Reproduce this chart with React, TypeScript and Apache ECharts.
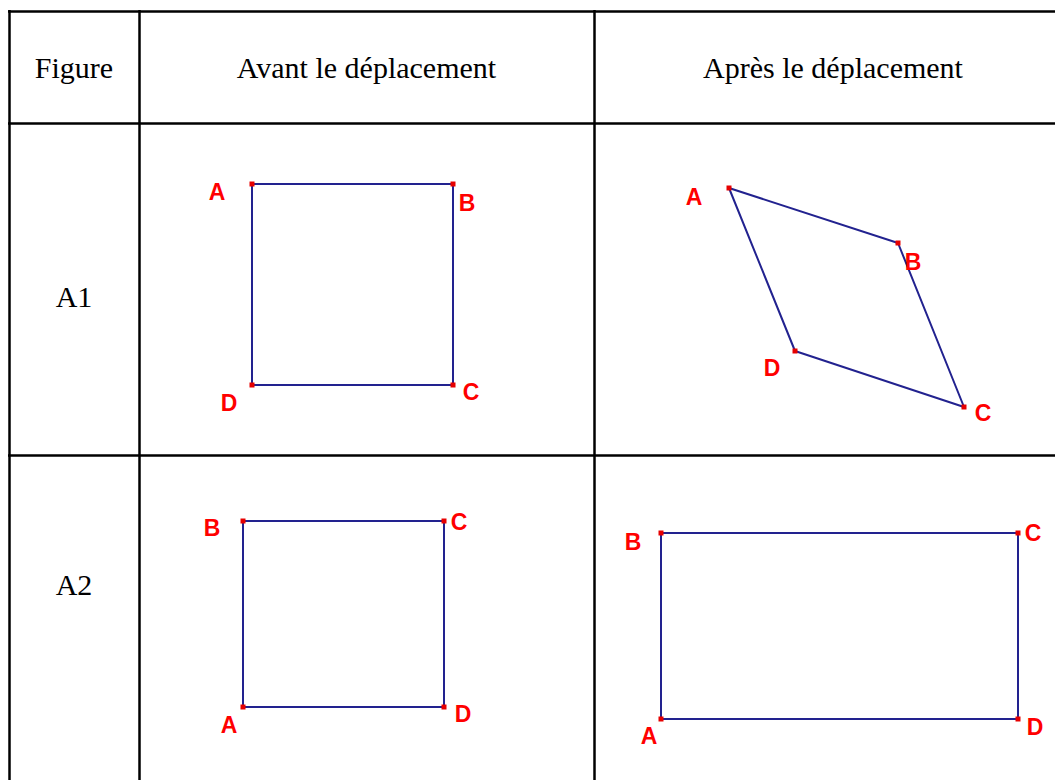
import React, { useEffect, useRef } from "react";
import * as echarts from "echarts";

// Table grid (pixel coordinates of column and row borders)
const tableCols = [9, 139, 594, 1072];
const tableRows = [11, 123, 455, 800];

// Header and row captions
const headerLabels = ["Figure", "Avant le déplacement", "Après le déplacement"];
const rowLabels = ["A1", "A2"];
const rowLabelY = [296, 584];

// Vertex names
const a1Names = ["A", "B", "C", "D"];
const a2Names = ["B", "C", "D", "A"];

// A1 before (square)
const a1BeforeX = [252, 453, 453, 252];
const a1BeforeY = [184, 184, 385, 385];
const a1BeforeLabelX = [217, 467, 471, 229];
const a1BeforeLabelY = [192, 203, 392, 403];

// A1 after (rhombus)
const a1AfterX = [729, 898, 964, 795];
const a1AfterY = [188, 243, 407, 351];
const a1AfterLabelX = [694, 913, 983, 772];
const a1AfterLabelY = [197, 262, 413, 368];

// A2 before (square)
const a2BeforeX = [243, 444, 444, 243];
const a2BeforeY = [521, 521, 707, 707];
const a2BeforeLabelX = [212, 459, 463, 229];
const a2BeforeLabelY = [528, 522, 714, 725];

// A2 after (rectangle)
const a2AfterX = [661, 1018, 1018, 661];
const a2AfterY = [533, 533, 719, 719];
const a2AfterLabelX = [633, 1033, 1035, 649];
const a2AfterLabelY = [542, 533, 727, 736];

const figures = [
  { names: a1Names, x: a1BeforeX, y: a1BeforeY, lx: a1BeforeLabelX, ly: a1BeforeLabelY },
  { names: a1Names, x: a1AfterX, y: a1AfterY, lx: a1AfterLabelX, ly: a1AfterLabelY },
  { names: a2Names, x: a2BeforeX, y: a2BeforeY, lx: a2BeforeLabelX, ly: a2BeforeLabelY },
  { names: a2Names, x: a2AfterX, y: a2AfterY, lx: a2AfterLabelX, ly: a2AfterLabelY },
];

const LINE_COLOR = "#22228f";
const POINT_COLOR = "#e60000";
const LABEL_COLOR = "#ff0000";
const CLEAR = "rgba(0,0,0,0)";

export default function App() {
  const ref = useRef<HTMLDivElement>(null);

  useEffect(() => {
    if (!ref.current) return;
    const chart = echarts.init(ref.current, undefined, { renderer: "svg" });

    const tableSegments: any[] = [];
    tableRows.forEach((y) => {
      tableSegments.push({ coords: [[tableCols[0] - 1, y], [tableCols[tableCols.length - 1], y]] });
    });
    tableCols.forEach((x) => {
      tableSegments.push({ coords: [[x, tableRows[0] - 1], [x, tableRows[tableRows.length - 1]]] });
    });

    const textData: any[] = [];
    headerLabels.forEach((t, i) => {
      textData.push({
        name: t,
        value: [(tableCols[i] + tableCols[i + 1]) / 2, (tableRows[0] + tableRows[1]) / 2],
      });
    });
    rowLabels.forEach((t, i) => {
      textData.push({ name: t, value: [(tableCols[0] + tableCols[1]) / 2, rowLabelY[i]] });
    });

    const series: any[] = [
      {
        type: "lines",
        coordinateSystem: "cartesian2d",
        data: tableSegments,
        lineStyle: { color: "#000", width: 2.5, opacity: 1 },
        silent: true,
        z: 1,
      },
      {
        type: "scatter",
        data: textData,
        symbolSize: 1,
        itemStyle: { color: CLEAR, opacity: 1 },
        label: {
          show: true,
          position: "inside",
          formatter: "{b}",
          color: "#000",
          opacity: 1,
          fontFamily: "'Liberation Serif', 'Times New Roman', serif",
          fontSize: 30,
        },
        z: 5,
      },
    ];

    figures.forEach((f) => {
      const pts = f.x.map((x, i) => [x, f.y[i]]);
      series.push({
        type: "line",
        data: [...pts, pts[0]],
        showSymbol: false,
        lineStyle: { color: LINE_COLOR, width: 2 },
        z: 3,
      });
      series.push({
        type: "scatter",
        data: pts,
        symbol: "rect",
        symbolSize: 5,
        itemStyle: { color: POINT_COLOR, opacity: 1 },
        z: 4,
      });
      series.push({
        type: "scatter",
        data: f.names.map((n, i) => ({ name: n, value: [f.lx[i], f.ly[i]] })),
        symbolSize: 1,
        itemStyle: { color: CLEAR, opacity: 1 },
        label: {
          show: true,
          position: "inside",
          formatter: "{b}",
          color: LABEL_COLOR,
          opacity: 1,
          fontFamily: "'Liberation Sans', Arial, sans-serif",
          fontWeight: "bold",
          fontSize: 23,
        },
        z: 5,
      });
    });

    chart.setOption({
      animation: false,
      backgroundColor: "#ffffff",
      grid: { left: 0, right: 0, top: 0, bottom: 0 },
      xAxis: { type: "value", min: 0, max: 1055, show: false },
      yAxis: { type: "value", min: 0, max: 780, inverse: true, show: false },
      series,
    });

    return () => chart.dispose();
  }, []);

  return (
    <div
      ref={ref}
      style={{ position: "absolute", left: 0, top: 0, width: 1055, height: 780 }}
    />
  );
}
